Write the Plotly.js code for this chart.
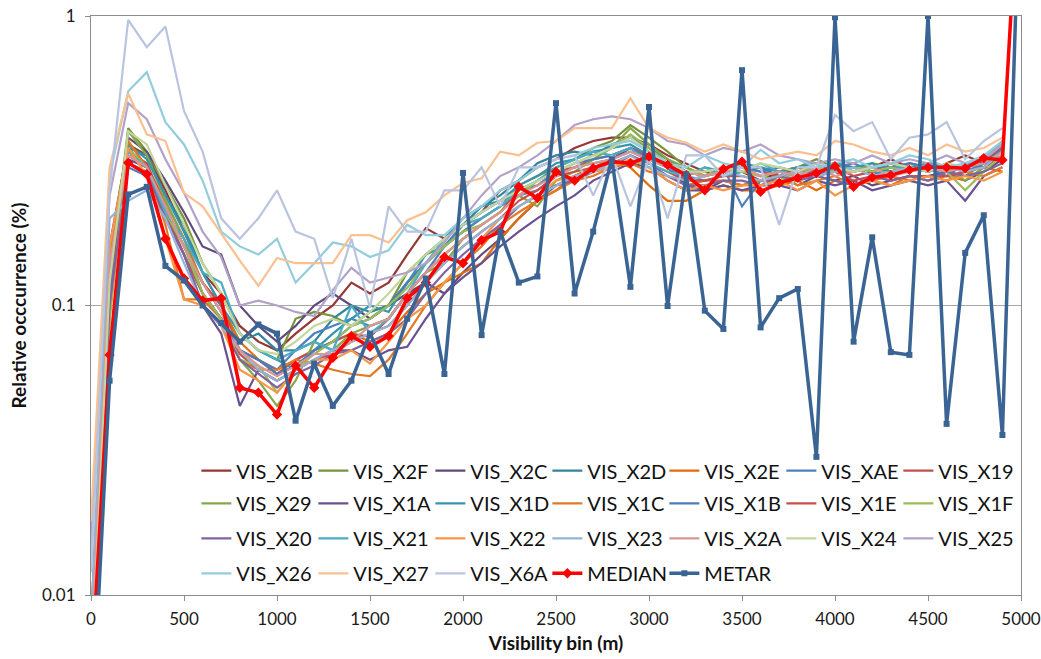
<!DOCTYPE html>
<html>
<head>
<meta charset="utf-8">
<script src="https://cdn.plot.ly/plotly-3.0.1.min.js"></script>
<style>
  html, body { margin: 0; padding: 0; background: #fff; }
  #visChart { width: 1041px; height: 659px; }
</style>
</head>
<body>
<div id="visChart"></div>
<script>
/***** relative occurrence per visibility bin *****/
var bins = [0, 100, 200, 300, 400, 500, 600, 700, 800, 900,
  1000, 1100, 1200, 1300, 1400, 1500, 1600, 1700, 1800, 1900,
  2000, 2100, 2200, 2300, 2400, 2500, 2600, 2700, 2800, 2900,
  3000, 3100, 3200, 3300, 3400, 3500, 3600, 3700, 3800, 3900,
  4000, 4100, 4200, 4300, 4400, 4500, 4600, 4700, 4800, 4900, 5000];

var visX2B = [0.008, 0.16, 0.36, 0.33, 0.25, 0.18, 0.13, 0.11, 0.085, 0.075, 0.07, 0.08, 0.09, 0.1, 0.12, 0.11, 0.12, 0.15, 0.185, 0.17, 0.19, 0.21, 0.25, 0.27, 0.3, 0.32, 0.35, 0.37, 0.38, 0.38, 0.36, 0.33, 0.31, 0.29, 0.28, 0.29, 0.27, 0.29, 0.3, 0.28, 0.31, 0.29, 0.3, 0.32, 0.3, 0.29, 0.31, 0.33, 0.31, 0.36];
var visX2F = [0.004, 0.12, 0.41, 0.34, 0.26, 0.2, 0.14, 0.11, 0.08, 0.07, 0.065, 0.09, 0.095, 0.092, 0.085, 0.095, 0.1, 0.13, 0.15, 0.16, 0.18, 0.2, 0.22, 0.26, 0.28, 0.3, 0.32, 0.35, 0.37, 0.42, 0.38, 0.34, 0.3, 0.28, 0.29, 0.3, 0.28, 0.29, 0.3, 0.32, 0.3, 0.29, 0.3, 0.29, 0.31, 0.3, 0.29, 0.28, 0.31, 0.34];
var visX2C = [0.006, 0.14, 0.38, 0.34, 0.27, 0.21, 0.16, 0.15, 0.1, 0.085, 0.075, 0.085, 0.1, 0.11, 0.1, 0.09, 0.1, 0.11, 0.12, 0.11, 0.13, 0.15, 0.17, 0.2, 0.23, 0.26, 0.28, 0.3, 0.32, 0.35, 0.33, 0.3, 0.26, 0.25, 0.27, 0.26, 0.27, 0.28, 0.26, 0.28, 0.27, 0.28, 0.26, 0.27, 0.28, 0.28, 0.29, 0.27, 0.29, 0.32];
var visX2D = [0.005, 0.11, 0.35, 0.33, 0.24, 0.19, 0.13, 0.1, 0.075, 0.08, 0.07, 0.07, 0.075, 0.09, 0.1, 0.095, 0.1, 0.12, 0.14, 0.16, 0.19, 0.22, 0.24, 0.27, 0.31, 0.33, 0.34, 0.33, 0.36, 0.38, 0.35, 0.32, 0.29, 0.28, 0.3, 0.29, 0.3, 0.28, 0.29, 0.3, 0.31, 0.3, 0.28, 0.3, 0.3, 0.29, 0.3, 0.3, 0.31, 0.35];
var visX2E = [0.005, 0.13, 0.37, 0.3, 0.23, 0.17, 0.12, 0.1, 0.075, 0.065, 0.06, 0.065, 0.07, 0.075, 0.08, 0.075, 0.08, 0.095, 0.11, 0.12, 0.13, 0.14, 0.17, 0.2, 0.23, 0.25, 0.28, 0.3, 0.32, 0.3, 0.26, 0.23, 0.23, 0.25, 0.26, 0.25, 0.25, 0.26, 0.27, 0.25, 0.27, 0.26, 0.27, 0.26, 0.28, 0.27, 0.28, 0.27, 0.3, 0.29];
var visXAE = [0.004, 0.1, 0.33, 0.3, 0.22, 0.16, 0.12, 0.095, 0.07, 0.065, 0.06, 0.07, 0.08, 0.085, 0.09, 0.085, 0.09, 0.11, 0.13, 0.16, 0.18, 0.2, 0.22, 0.24, 0.25, 0.28, 0.3, 0.31, 0.32, 0.34, 0.32, 0.3, 0.27, 0.28, 0.3, 0.22, 0.27, 0.28, 0.29, 0.29, 0.3, 0.31, 0.29, 0.28, 0.3, 0.29, 0.3, 0.29, 0.31, 0.34];
var visX19 = [0.006, 0.13, 0.34, 0.31, 0.22, 0.16, 0.12, 0.1, 0.07, 0.065, 0.058, 0.065, 0.07, 0.075, 0.08, 0.078, 0.09, 0.11, 0.13, 0.15, 0.17, 0.19, 0.21, 0.25, 0.27, 0.29, 0.3, 0.32, 0.33, 0.35, 0.33, 0.31, 0.29, 0.28, 0.29, 0.3, 0.29, 0.28, 0.3, 0.29, 0.3, 0.28, 0.29, 0.31, 0.29, 0.3, 0.29, 0.31, 0.32, 0.35];
var visX29 = [0.003, 0.09, 0.4, 0.33, 0.23, 0.17, 0.11, 0.09, 0.065, 0.055, 0.045, 0.055, 0.075, 0.07, 0.08, 0.085, 0.09, 0.11, 0.13, 0.14, 0.17, 0.19, 0.21, 0.24, 0.22, 0.27, 0.29, 0.32, 0.35, 0.41, 0.36, 0.32, 0.3, 0.28, 0.3, 0.29, 0.28, 0.29, 0.3, 0.31, 0.3, 0.29, 0.31, 0.3, 0.29, 0.31, 0.3, 0.27, 0.3, 0.33];
var visX1A = [0.004, 0.1, 0.32, 0.3, 0.2, 0.15, 0.1, 0.08, 0.045, 0.06, 0.055, 0.06, 0.065, 0.07, 0.07, 0.065, 0.07, 0.072, 0.09, 0.11, 0.125, 0.14, 0.16, 0.18, 0.2, 0.22, 0.24, 0.27, 0.29, 0.31, 0.3, 0.27, 0.25, 0.25, 0.26, 0.25, 0.26, 0.26, 0.25, 0.27, 0.26, 0.27, 0.25, 0.26, 0.27, 0.26, 0.27, 0.23, 0.28, 0.3];
var visX1D = [0.005, 0.12, 0.36, 0.32, 0.24, 0.18, 0.13, 0.1, 0.08, 0.07, 0.065, 0.06, 0.07, 0.08, 0.09, 0.1, 0.095, 0.12, 0.15, 0.17, 0.2, 0.22, 0.23, 0.26, 0.28, 0.31, 0.32, 0.34, 0.35, 0.36, 0.33, 0.3, 0.28, 0.3, 0.29, 0.31, 0.3, 0.29, 0.3, 0.31, 0.29, 0.3, 0.31, 0.29, 0.3, 0.31, 0.29, 0.3, 0.32, 0.36];
var visX1C = [0.004, 0.15, 0.37, 0.3, 0.19, 0.105, 0.105, 0.09, 0.065, 0.06, 0.06, 0.065, 0.063, 0.06, 0.058, 0.057, 0.065, 0.08, 0.1, 0.12, 0.14, 0.16, 0.19, 0.21, 0.23, 0.25, 0.27, 0.28, 0.3, 0.31, 0.29, 0.28, 0.26, 0.27, 0.27, 0.26, 0.27, 0.28, 0.26, 0.27, 0.28, 0.26, 0.27, 0.28, 0.27, 0.28, 0.27, 0.29, 0.28, 0.3];
var visX1B = [0.005, 0.11, 0.3, 0.28, 0.21, 0.15, 0.11, 0.09, 0.07, 0.065, 0.058, 0.062, 0.07, 0.075, 0.085, 0.09, 0.1, 0.12, 0.14, 0.16, 0.19, 0.21, 0.23, 0.25, 0.26, 0.29, 0.31, 0.32, 0.33, 0.35, 0.32, 0.3, 0.28, 0.27, 0.28, 0.3, 0.29, 0.3, 0.29, 0.28, 0.3, 0.29, 0.3, 0.3, 0.31, 0.3, 0.28, 0.31, 0.3, 0.35];
var visX1E = [0.005, 0.12, 0.33, 0.3, 0.21, 0.15, 0.11, 0.09, 0.068, 0.06, 0.055, 0.06, 0.065, 0.068, 0.075, 0.08, 0.085, 0.1, 0.12, 0.14, 0.16, 0.18, 0.2, 0.23, 0.25, 0.28, 0.29, 0.3, 0.31, 0.33, 0.31, 0.29, 0.27, 0.27, 0.28, 0.28, 0.27, 0.27, 0.28, 0.28, 0.29, 0.27, 0.28, 0.27, 0.28, 0.28, 0.28, 0.29, 0.3, 0.33];
var visX1F = [0.003, 0.09, 0.35, 0.3, 0.21, 0.16, 0.11, 0.09, 0.065, 0.062, 0.05, 0.06, 0.068, 0.075, 0.085, 0.09, 0.1, 0.115, 0.14, 0.16, 0.18, 0.19, 0.21, 0.24, 0.27, 0.29, 0.31, 0.33, 0.35, 0.39, 0.35, 0.31, 0.29, 0.28, 0.3, 0.29, 0.28, 0.27, 0.29, 0.3, 0.29, 0.3, 0.29, 0.3, 0.29, 0.3, 0.29, 0.25, 0.29, 0.33];
var visX20 = [0.004, 0.1, 0.31, 0.29, 0.2, 0.15, 0.1, 0.085, 0.065, 0.058, 0.052, 0.058, 0.062, 0.068, 0.07, 0.075, 0.08, 0.09, 0.11, 0.13, 0.15, 0.17, 0.19, 0.22, 0.24, 0.26, 0.27, 0.29, 0.3, 0.33, 0.31, 0.28, 0.26, 0.26, 0.27, 0.27, 0.26, 0.28, 0.27, 0.28, 0.27, 0.26, 0.28, 0.27, 0.28, 0.27, 0.29, 0.28, 0.29, 0.31];
var visX21 = [0.006, 0.13, 0.34, 0.3, 0.21, 0.17, 0.13, 0.12, 0.08, 0.07, 0.065, 0.07, 0.075, 0.07, 0.1, 0.08, 0.09, 0.11, 0.14, 0.17, 0.19, 0.2, 0.22, 0.25, 0.27, 0.3, 0.32, 0.34, 0.33, 0.35, 0.31, 0.29, 0.28, 0.3, 0.28, 0.29, 0.31, 0.29, 0.28, 0.3, 0.31, 0.29, 0.3, 0.31, 0.29, 0.31, 0.3, 0.3, 0.32, 0.37];
var visX22 = [0.007, 0.16, 0.35, 0.28, 0.17, 0.105, 0.1, 0.085, 0.06, 0.055, 0.05, 0.06, 0.065, 0.065, 0.07, 0.063, 0.075, 0.09, 0.1, 0.12, 0.14, 0.17, 0.2, 0.22, 0.24, 0.27, 0.28, 0.29, 0.3, 0.32, 0.3, 0.27, 0.25, 0.26, 0.25, 0.26, 0.26, 0.27, 0.25, 0.27, 0.24, 0.26, 0.27, 0.26, 0.27, 0.28, 0.27, 0.28, 0.27, 0.29];
var visX23 = [0.008, 0.2, 0.23, 0.25, 0.2, 0.14, 0.1, 0.085, 0.07, 0.06, 0.055, 0.06, 0.065, 0.07, 0.075, 0.08, 0.085, 0.1, 0.12, 0.14, 0.16, 0.18, 0.2, 0.22, 0.24, 0.26, 0.28, 0.29, 0.31, 0.33, 0.3, 0.28, 0.27, 0.28, 0.29, 0.28, 0.27, 0.28, 0.29, 0.28, 0.29, 0.3, 0.28, 0.29, 0.3, 0.29, 0.3, 0.29, 0.3, 0.34];
var visX2A = [0.006, 0.14, 0.33, 0.3, 0.22, 0.16, 0.12, 0.095, 0.07, 0.062, 0.057, 0.062, 0.068, 0.068, 0.075, 0.085, 0.09, 0.11, 0.13, 0.15, 0.17, 0.19, 0.21, 0.24, 0.26, 0.28, 0.3, 0.31, 0.32, 0.34, 0.32, 0.3, 0.29, 0.28, 0.29, 0.3, 0.28, 0.29, 0.28, 0.3, 0.28, 0.29, 0.3, 0.28, 0.29, 0.3, 0.29, 0.3, 0.31, 0.34];
var visX24 = [0.005, 0.12, 0.4, 0.36, 0.26, 0.19, 0.14, 0.11, 0.08, 0.07, 0.068, 0.075, 0.085, 0.09, 0.085, 0.095, 0.11, 0.13, 0.15, 0.17, 0.19, 0.21, 0.23, 0.25, 0.27, 0.29, 0.31, 0.33, 0.35, 0.38, 0.34, 0.31, 0.29, 0.29, 0.3, 0.29, 0.31, 0.3, 0.29, 0.31, 0.3, 0.29, 0.3, 0.31, 0.3, 0.29, 0.31, 0.3, 0.32, 0.36];
var visX25 = [0.015, 0.24, 0.5, 0.44, 0.32, 0.245, 0.18, 0.147, 0.1, 0.104, 0.1, 0.095, 0.092, 0.113, 0.135, 0.12, 0.125, 0.13, 0.14, 0.165, 0.2, 0.24, 0.28, 0.3, 0.33, 0.37, 0.42, 0.44, 0.45, 0.44, 0.41, 0.37, 0.36, 0.33, 0.35, 0.34, 0.36, 0.33, 0.32, 0.31, 0.32, 0.31, 0.33, 0.31, 0.32, 0.31, 0.33, 0.31, 0.32, 0.36];
var visX26 = [0.012, 0.28, 0.55, 0.64, 0.43, 0.36, 0.27, 0.18, 0.16, 0.15, 0.17, 0.12, 0.14, 0.165, 0.16, 0.147, 0.155, 0.19, 0.175, 0.175, 0.2, 0.22, 0.25, 0.27, 0.3, 0.32, 0.33, 0.35, 0.36, 0.37, 0.34, 0.31, 0.3, 0.33, 0.31, 0.3, 0.345, 0.31, 0.32, 0.3, 0.31, 0.32, 0.3, 0.31, 0.33, 0.32, 0.3, 0.31, 0.33, 0.37];
var visX27 = [0.018, 0.3, 0.54, 0.39, 0.37, 0.245, 0.22, 0.178, 0.143, 0.117, 0.146, 0.14, 0.14, 0.14, 0.175, 0.175, 0.165, 0.197, 0.21, 0.24, 0.265, 0.275, 0.34, 0.33, 0.365, 0.37, 0.41, 0.41, 0.41, 0.52, 0.41, 0.38, 0.365, 0.34, 0.36, 0.34, 0.32, 0.33, 0.34, 0.33, 0.37, 0.36, 0.34, 0.33, 0.35, 0.33, 0.36, 0.34, 0.35, 0.38];
var visX6A = [0.012, 0.25, 0.97, 0.78, 0.92, 0.47, 0.34, 0.2, 0.17, 0.2, 0.25, 0.18, 0.17, 0.106, 0.17, 0.098, 0.22, 0.18, 0.18, 0.25, 0.25, 0.3, 0.22, 0.3, 0.3, 0.32, 0.33, 0.24, 0.33, 0.22, 0.32, 0.2, 0.33, 0.33, 0.28, 0.3, 0.3, 0.19, 0.3, 0.3, 0.455, 0.4, 0.43, 0.32, 0.38, 0.39, 0.43, 0.32, 0.37, 0.41];

var median = [0.005, 0.0675, 0.311, 0.284, 0.17, 0.124, 0.104, 0.106, 0.052, 0.05, 0.042, 0.062, 0.052, 0.066, 0.0785, 0.072, 0.0785, 0.106, 0.12, 0.147, 0.14, 0.168, 0.18, 0.257, 0.235, 0.29, 0.27, 0.298, 0.314, 0.31, 0.327, 0.306, 0.282, 0.25, 0.296, 0.314, 0.247, 0.265, 0.276, 0.287, 0.303, 0.257, 0.277, 0.282, 0.294, 0.3, 0.3, 0.298, 0.323, 0.318, 4];
var metar = [0.003, 0.055, 0.242, 0.257, 0.137, 0.122, 0.1, 0.087, 0.075, 0.086, 0.08, 0.04, 0.063, 0.045, 0.055, 0.08, 0.058, 0.09, 0.124, 0.058, 0.287, 0.079, 0.18, 0.12, 0.126, 0.5, 0.11, 0.18, 0.32, 0.116, 0.485, 0.0996, 0.284, 0.096, 0.083, 0.65, 0.084, 0.106, 0.114, 0.03, 0.99, 0.075, 0.172, 0.069, 0.0675, 1.0, 0.039, 0.152, 0.205, 0.0357, 4];

var seriesNames = ['VIS_X2B', 'VIS_X2F', 'VIS_X2C', 'VIS_X2D', 'VIS_X2E', 'VIS_XAE', 'VIS_X19',
  'VIS_X29', 'VIS_X1A', 'VIS_X1D', 'VIS_X1C', 'VIS_X1B', 'VIS_X1E', 'VIS_X1F',
  'VIS_X20', 'VIS_X21', 'VIS_X22', 'VIS_X23', 'VIS_X2A', 'VIS_X24', 'VIS_X25',
  'VIS_X26', 'VIS_X27', 'VIS_X6A'];
var seriesValues = [visX2B, visX2F, visX2C, visX2D, visX2E, visXAE, visX19,
  visX29, visX1A, visX1D, visX1C, visX1B, visX1E, visX1F,
  visX20, visX21, visX22, visX23, visX2A, visX24, visX25,
  visX26, visX27, visX6A];
var seriesColors = ['#953735', '#77933c', '#604a7b', '#31859c', '#e46c0a', '#4f81bd', '#c0504d',
  '#86a84a', '#6a5190', '#3894ad', '#e07a28', '#4a7ebb', '#c8504c', '#9bbb59',
  '#8064a2', '#4bacc6', '#f79646', '#95b3d7', '#d99694', '#c3d69b', '#b3a2c7',
  '#93cddd', '#fac090', '#b9c4df'];

// one legend per row, 7 entries each
var legendIds = ['legend', 'legend2', 'legend3', 'legend4'];

var data = [];
for (var i = 0; i < seriesNames.length; i++) {
  data.push({
    x: bins,
    y: seriesValues[i],
    type: 'scatter',
    mode: 'lines',
    name: seriesNames[i],
    legend: legendIds[Math.floor(i / 7)],
    line: { color: seriesColors[i], width: 2.2 }
  });
}
data.push({
  x: bins, y: median, type: 'scatter', mode: 'lines+markers', name: 'MEDIAN',
  legend: 'legend4',
  line: { color: '#ff0000', width: 3.5 },
  marker: { color: '#ff0000', symbol: 'diamond', size: 8 }
});
data.push({
  x: bins, y: metar, type: 'scatter', mode: 'lines+markers', name: 'METAR',
  legend: 'legend4',
  line: { color: '#3a6494', width: 3.5 },
  marker: { color: '#3a6494', symbol: 'square', size: 6 }
});

var legendBase = {
  orientation: 'h', x: 0.1133, xanchor: 'left', yanchor: 'middle',
  bgcolor: 'rgba(0,0,0,0)', borderwidth: 0,
  entrywidth: 72, entrywidthmode: 'pixels', itemwidth: 30,
  font: { family: 'Lato, sans-serif', size: 20, color: '#111' }
};
var rowY = [0.2147, 0.1584, 0.0979, 0.0375];

var layout = {
  width: 1041, height: 659,
  margin: { l: 91, r: 20, t: 16, b: 64 },
  paper_bgcolor: '#fff', plot_bgcolor: '#fff',
  font: { family: 'Lato, sans-serif', size: 17, color: '#222' },
  showlegend: true,
  xaxis: {
    range: [0, 5000], tickvals: [0, 500, 1000, 1500, 2000, 2500, 3000, 3500, 4000, 4500, 5000],
    showgrid: false, zeroline: false,
    showline: true, mirror: true, linecolor: '#8c8c8c', linewidth: 1,
    ticks: 'outside', ticklen: 5, tickcolor: '#8c8c8c',
    ticklabelstandoff: 4,
    tickfont: { size: 17, color: '#1a1a1a' },
    title: { text: 'Visibility bin (m)', font: { size: 19, color: '#111', weight: 'bold' }, standoff: 8 }
  },
  yaxis: {
    type: 'log', range: [-2, 0],
    tickvals: [0.01, 0.1, 1], ticktext: ['0.01', '0.1', '1'],
    showgrid: true, gridcolor: '#a6a6a6', gridwidth: 1,
    zeroline: false,
    showline: true, mirror: true, linecolor: '#8c8c8c', linewidth: 1,
    ticks: 'outside', ticklen: 5, tickcolor: '#8c8c8c',
    ticklabelstandoff: 6,
    tickfont: { size: 17, color: '#1a1a1a' },
    title: { text: 'Relative occcurrence (%)', font: { size: 19, color: '#111', weight: 'bold' }, standoff: 10 }
  },
  legend: Object.assign({}, legendBase, { y: rowY[0] }),
  legend2: Object.assign({}, legendBase, { y: rowY[1] }),
  legend3: Object.assign({}, legendBase, { y: rowY[2] }),
  legend4: Object.assign({}, legendBase, { y: rowY[3] })
};

var config = { displayModeBar: false, responsive: false };

Plotly.newPlot('visChart', data, layout, config);
</script>
</body>
</html>
